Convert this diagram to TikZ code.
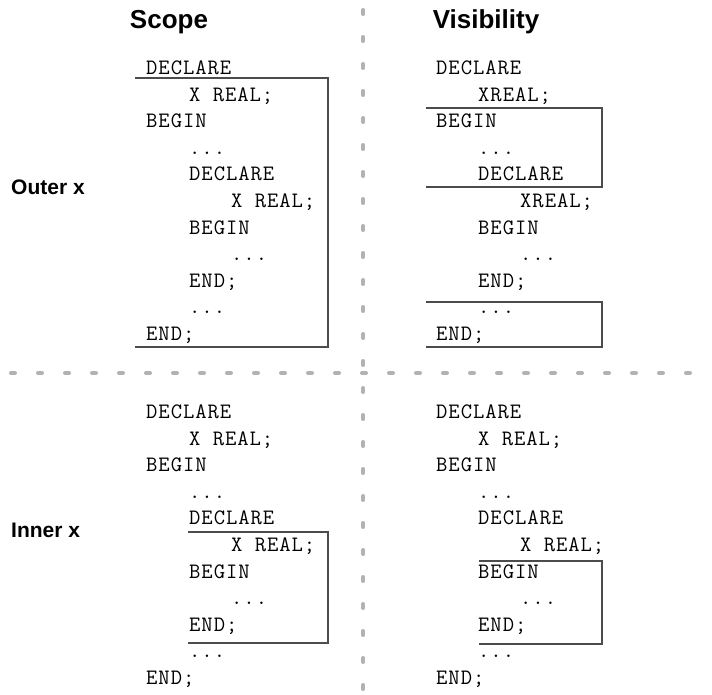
\documentclass[tikz,border=0pt]{standalone}
\usepackage{fontspec}
\setmainfont{Liberation Sans}
\newfontfamily\codefont{Latin Modern Mono}[LetterSpace=4.3]
\newcommand\codeellipsis{...}
\begin{document}
\begin{tikzpicture}[x=1pt,y=-1pt,
  code/.style={anchor=base west,inner sep=0pt,font=\codefont\fontsize{22}{26}\selectfont},
  title/.style={anchor=base,inner sep=0pt,font=\bfseries\fontsize{26}{30}\selectfont},
  rowlabel/.style={anchor=west,inner sep=0pt,font=\bfseries\fontsize{21}{25}\selectfont},
  scopebox/.style={draw=black!70,line width=1.1pt},
  divider/.style={draw=black!30,line width=4pt,line cap=round,dash pattern=on 4pt off 23pt}]
\useasboundingbox (0,0) rectangle (712,694);

% dividers
\coordinate (hl) at (11,373);
\coordinate (hr) at (706,373);
\coordinate (vt) at (363.3,10);
\coordinate (vb) at (363.3,692);
\draw[divider] (hl) -- (hr);
\draw[divider] (vt) -- (vb);

% titles
\node[title] (tscope) at (169,28) {Scope};
\node[title] (tvis) at (486,28) {Visibility};
\node[rowlabel] (louter) at (11,187) {Outer x};
\node[rowlabel] (linner) at (11,530) {Inner x};

% top-left code
\foreach \i/\x/\t in {0/146/DECLARE,1/189/X REAL;,2/146/BEGIN,3/189/\codeellipsis,4/189/DECLARE,5/231/X REAL;,6/189/BEGIN,7/231/\codeellipsis,8/189/END;,9/189/\codeellipsis,10/146/END;}
  \node[code] (tl\i) at (\x,74.5+26.6*\i) {\t};
% top-right code
\foreach \i/\x/\t in {0/436/DECLARE,1/478/XREAL;,2/436/BEGIN,3/478/\codeellipsis,4/478/DECLARE,5/520/XREAL;,6/478/BEGIN,7/520/\codeellipsis,8/478/END;,9/478/\codeellipsis,10/436/END;}
  \node[code] (tr\i) at (\x,74.5+26.6*\i) {\t};
% bottom-left code
\foreach \i/\x/\t in {0/146/DECLARE,1/189/X REAL;,2/146/BEGIN,3/189/\codeellipsis,4/189/DECLARE,5/231/X REAL;,6/189/BEGIN,7/231/\codeellipsis,8/189/END;,9/189/\codeellipsis,10/146/END;}
  \node[code] (bl\i) at (\x,418.5+26.6*\i) {\t};
% bottom-right code
\foreach \i/\x/\t in {0/436/DECLARE,1/478/X REAL;,2/436/BEGIN,3/478/\codeellipsis,4/478/DECLARE,5/520/X REAL;,6/478/BEGIN,7/520/\codeellipsis,8/478/END;,9/478/\codeellipsis,10/436/END;}
  \node[code] (br\i) at (\x,418.5+26.6*\i) {\t};

% scope / visibility boxes (open on the left)
\draw[scopebox] (135,78) -- (328,78) -- (328,347) -- (135,347);
\draw[scopebox] (426,108) -- (602,108) -- (602,187) -- (426,187);
\draw[scopebox] (426,302) -- (602,302) -- (602,347) -- (426,347);
\draw[scopebox] (188,532) -- (328,532) -- (328,643) -- (188,643);
\draw[scopebox] (479,561) -- (602,561) -- (602,644) -- (479,644);
\end{tikzpicture}
\end{document}
